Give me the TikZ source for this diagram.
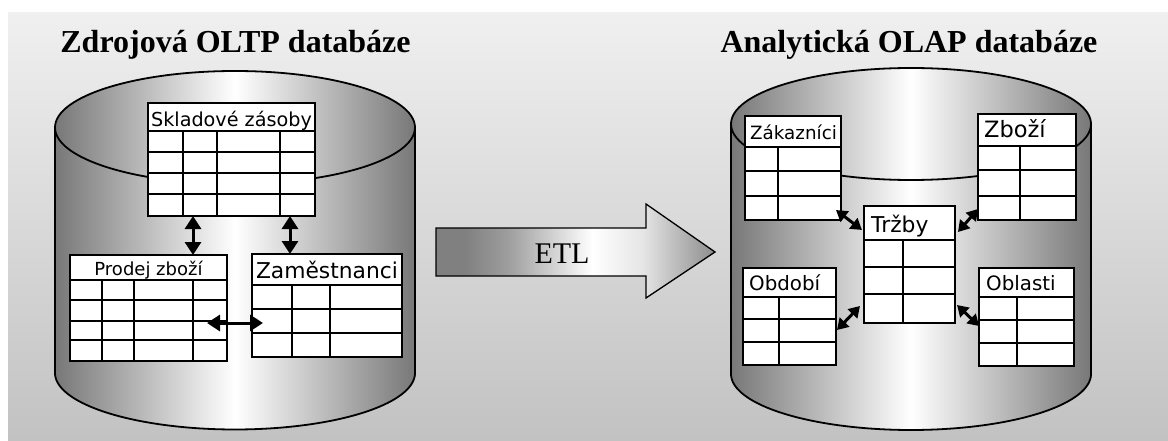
\documentclass[tikz,border=0pt]{standalone}
\usepackage{fontspec}
\setmainfont{Liberation Serif}
\newfontfamily\tblfont{DejaVu Sans}
\usetikzlibrary{arrows.meta}
\definecolor{cylgray}{gray}{0.47}
\definecolor{etlA}{gray}{0.50}
\definecolor{etlB}{gray}{0.62}
\definecolor{etlW}{gray}{1.0}
\definecolor{etlC}{gray}{0.90}
\definecolor{etlD}{gray}{0.55}
\pgfdeclarehorizontalshading{etlshade}{100bp}{color(0bp)=(etlA); color(25bp)=(etlA); color(30bp)=(etlA); color(38bp)=(etlB); color(53bp)=(etlW); color(62bp)=(etlC); color(75bp)=(etlD); color(100bp)=(etlD)}
\newcommand\mycyl[5]{%
  \shade[cylshade] ({#1-#4},#2) -- ({#1-#4},#3) -- plot[domain=180:0,samples=90] ({#1+#4*cos(\x)},{#3+#5*sin(\x)}) -- ({#1+#4},#2) -- cycle;
  \shade[cylshade] (#1,#2) ellipse[x radius=#4,y radius=#5];
  \draw[cylline] (#1,#2) ellipse[x radius=#4,y radius=#5];
  \draw[cylline] ({#1-#4},#2) -- ({#1-#4},#3) -- plot[domain=180:0,samples=90] ({#1+#4*cos(\x)},{#3+#5*sin(\x)}) -- ({#1+#4},#2);
}
\newcommand\dbtab[8]{%
  \node[tblbox, minimum width={#4pt-#2pt}, minimum height={#5pt-#3pt}, anchor=north west] (#1) at (#2,#3) {};
  \draw[gridline] (#2,#6) -- (#4,#6);
  \foreach \r in {#7} \draw[gridline] (#2,\r) -- (#4,\r);
  \foreach \c in {#8} \draw[gridline] (\c,#6) -- (\c,#5);
  \draw[tblborder] (#1.north west) rectangle (#1.south east);
}
\begin{document}
\begin{tikzpicture}[x=1pt,y=-1pt,
  cylshade/.style={left color=cylgray,right color=cylgray,middle color=white},
  cylline/.style={line width=1.8pt,black},
  tblbox/.style={fill=white,inner sep=0pt,outer sep=0pt},
  tblborder/.style={line width=2.6pt,line join=miter},
  gridline/.style={line width=1.3pt},
  title/.style={font=\bfseries\fontsize{32}{36}\selectfont,anchor=base,inner sep=0pt},
  hdr/.style={inner sep=0pt,anchor=base},
  hdrl/.style={inner sep=0pt,anchor=base west},
  dbl/.style={{Triangle[width=16pt,length=13pt]}-{Triangle[width=16pt,length=13pt]},line width=3pt},
  sdbl/.style={{Triangle[width=13pt,length=11pt]}-{Triangle[width=13pt,length=11pt]},line width=3pt}
]
\useasboundingbox (0,0) rectangle (1168,441);
\shade[top color=black!6,bottom color=black!24] (8,13) rectangle (1168,441);

% titles
\node[title] (t1) at (235.5,53) {Zdrojová OLTP databáze};
\node[title] (t2) at (909,53) {Analytická OLAP databáze};

% cylinders
\mycyl{235}{127.5}{373}{180}{56.5}
\mycyl{911}{124}{374}{180}{56}

% ETL arrow
\shade[shading=etlshade,draw,line width=1.3pt,line join=miter]
  (436,228) -- (646,228) -- (646,204) -- (715,252) -- (646,298) -- (646,276) -- (436,276) -- cycle;
\node[inner sep=0pt,anchor=base,font=\fontsize{30}{34}\selectfont] (etl) at (562,263) {ETL};

% left tables
\dbtab{skl}{148}{103}{315}{216}{131}{152,173,194}{183,217,280}
\node[hdr,font=\tblfont\fontsize{19.2}{22}\selectfont] (skl-h) at (231.5,127) {Skladové zásoby};
\dbtab{prod}{70}{255}{227}{361}{280}{300,321,340}{102,134,193}
\node[hdr,font=\tblfont\fontsize{18}{22}\selectfont] (prod-h) at (148.5,275) {Prodej zboží};
\dbtab{zam}{252}{254}{402}{357}{285}{309,333}{292,330}
\node[hdr,font=\tblfont\fontsize{21.8}{26}\selectfont] (zam-h) at (327,278) {Zaměstnanci};

% right tables
\dbtab{zak}{745}{116}{841}{220}{147}{171,196}{778}
\node[hdrl,font=\tblfont\fontsize{18.3}{22}\selectfont] (zak-h) at (750,140) {Zákazníci};
\dbtab{zbo}{978}{114}{1076}{220}{146}{170,196}{1020}
\node[hdrl,font=\tblfont\fontsize{22.5}{26}\selectfont] (zbo-h) at (984,138) {Zboží};
\dbtab{trz}{864}{206}{955}{323}{240}{267,294}{903}
\node[hdrl,font=\tblfont\fontsize{21.8}{26}\selectfont] (trz-h) at (871,232) {Tržby};
\dbtab{obd}{743}{268}{836}{365}{297}{319,342}{779}
\node[hdrl,font=\tblfont\fontsize{19.8}{24}\selectfont] (obd-h) at (749,290) {Období};
\dbtab{obl}{979}{268}{1074}{366}{297}{320,343}{1017}
\node[hdrl,font=\tblfont\fontsize{19.8}{24}\selectfont] (obl-h) at (986,290) {Oblasti};

% left connectors
\draw[dbl] ([xshift=45pt]skl.south west) -- ([xshift=123pt]prod.north west);
\draw[dbl] ([xshift=142pt]skl.south west) -- ([xshift=38pt]zam.north west);
\draw[dbl] ([xshift=-20pt,yshift=38pt]prod.south east) -- ([xshift=11pt,yshift=34pt]zam.south west);

% right connectors
\draw[sdbl] ([xshift=-5pt,yshift=10pt]zak.south east) -- ([xshift=-2pt,yshift=-24pt]trz.north west);
\draw[sdbl] ([yshift=11pt]zbo.south west) -- ([xshift=3pt,yshift=-26pt]trz.north east);
\draw[sdbl] ([xshift=1pt,yshift=-13.5pt]obd.east) -- ([xshift=-4pt,yshift=17pt]trz.south west);
\draw[sdbl] ([yshift=-9pt]obl.west) -- ([xshift=2pt,yshift=18pt]trz.south east);
\end{tikzpicture}
\end{document}
